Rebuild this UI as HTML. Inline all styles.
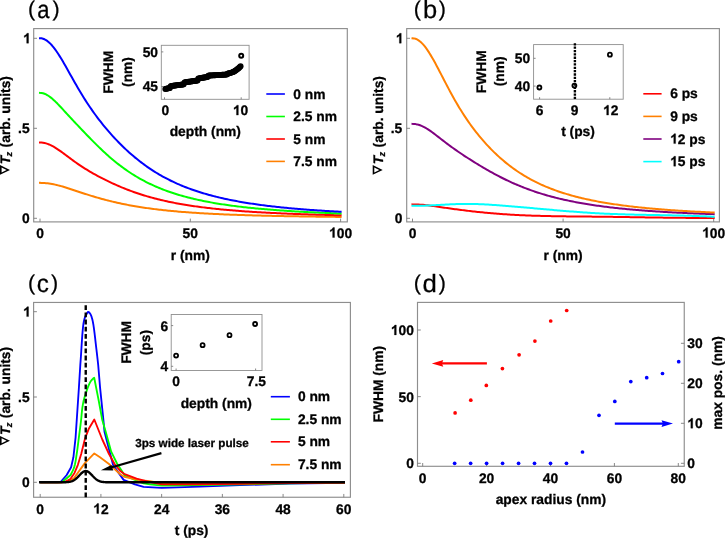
<!DOCTYPE html>
<html><head><meta charset="utf-8"><title>figure</title>
<style>
html,body{margin:0;padding:0;background:#fff;}
svg{display:block;will-change:transform;opacity:0.999;}
text{font-family:"Liberation Sans",sans-serif;font-weight:bold;fill:#000;text-rendering:geometricPrecision;stroke:#000;stroke-width:0.3px;}
</style></head><body>
<svg width="725" height="539" viewBox="0 0 725 539">
<rect x="33.7" y="28.6" width="313.6" height="193.3" fill="none" stroke="#8e8e8e" stroke-width="1.15"/>
<line x1="33.7" y1="218.3" x2="37" y2="218.3" stroke="#7a7a7a" stroke-width="0.9" />
<line x1="33.7" y1="128.3" x2="37" y2="128.3" stroke="#7a7a7a" stroke-width="0.9" />
<line x1="33.7" y1="38.3" x2="37" y2="38.3" stroke="#7a7a7a" stroke-width="0.9" />
<line x1="40" y1="221.9" x2="40" y2="218.6" stroke="#7a7a7a" stroke-width="0.9" />
<line x1="190.3" y1="221.9" x2="190.3" y2="218.6" stroke="#7a7a7a" stroke-width="0.9" />
<line x1="340.6" y1="221.9" x2="340.6" y2="218.6" stroke="#7a7a7a" stroke-width="0.9" />
<path transform="translate(23.13,43.2) scale(0.00674,-0.00674)" d="M806,0H525V1059Q371,915 162,846V1101Q272,1137 401,1237.5Q530,1338 578,1472H806Z" fill="#000" stroke="#000" stroke-width="45"/>
<text x="29.6" y="133.2" text-anchor="end" font-size="13.8" >.5</text>
<text x="29.8" y="223.2" text-anchor="end" font-size="13.8" >0</text>
<text x="40" y="237.5" text-anchor="middle" font-size="13.8" >0</text>
<text x="190.3" y="237.5" text-anchor="middle" font-size="13.8" >50</text>
<path transform="translate(329.09,237.5) scale(0.00674,-0.00674)" d="M806,0H525V1059Q371,915 162,846V1101Q272,1137 401,1237.5Q530,1338 578,1472H806Z" fill="#000" stroke="#000" stroke-width="45"/>
<text x="336.76" y="237.5" font-size="13.8" >00</text>
<text x="190.3" y="259.7" text-anchor="middle" font-size="13.8" >r (nm)</text>
<g transform="translate(10,126.7) rotate(-90)">
<path d="M-48.0,-10 L-38.4,-10 L-43.2,0 Z M-45.7,-8.4 L-43.2,-3.4 L-40.7,-8.4 Z" fill="#000" fill-rule="evenodd"/>
<text x="-37.6" y="0" font-size="13.8" font-style="italic">T</text>
<text x="-29.7" y="2.4" font-size="9.2" font-style="italic">z</text>
<text x="-20.7" y="0" font-size="13.8">(arb. units)</text>
</g>
<polyline points="40,182.86 41.51,182.88 43.02,182.94 44.53,183.03 46.04,183.16 47.55,183.32 49.06,183.52 50.57,183.75 52.08,184.02 53.59,184.31 55.11,184.63 56.62,184.98 58.13,185.35 59.64,185.74 61.15,186.15 62.66,186.58 64.17,187.03 65.68,187.49 67.19,187.96 68.7,188.45 70.21,188.94 71.72,189.43 73.23,189.93 74.74,190.44 76.25,190.94 77.76,191.45 79.27,191.95 80.78,192.45 82.3,192.95 83.81,193.45 85.32,193.94 86.83,194.42 88.34,194.91 89.85,195.38 91.36,195.85 92.87,196.31 94.38,196.76 95.89,197.21 97.4,197.65 98.91,198.08 100.42,198.51 101.93,198.92 103.44,199.33 104.95,199.73 106.46,200.13 107.97,200.51 109.49,200.89 111,201.26 112.51,201.63 114.02,201.98 115.53,202.33 117.04,202.68 118.55,203.01 120.06,203.34 121.57,203.66 123.08,203.97 124.59,204.28 126.1,204.58 127.61,204.87 129.12,205.16 130.63,205.44 132.14,205.71 133.65,205.98 135.16,206.24 136.68,206.5 138.19,206.75 139.7,206.99 141.21,207.23 142.72,207.46 144.23,207.69 145.74,207.91 147.25,208.13 148.76,208.34 150.27,208.54 151.78,208.74 153.29,208.94 154.8,209.13 156.31,209.32 157.82,209.5 159.33,209.68 160.84,209.85 162.35,210.02 163.87,210.18 165.38,210.35 166.89,210.5 168.4,210.66 169.91,210.81 171.42,210.95 172.93,211.1 174.44,211.23 175.95,211.37 177.46,211.5 178.97,211.63 180.48,211.76 181.99,211.88 183.5,212 185.01,212.12 186.52,212.23 188.03,212.35 189.54,212.46 191.06,212.56 192.57,212.67 194.08,212.77 195.59,212.87 197.1,212.97 198.61,213.06 200.12,213.15 201.63,213.24 203.14,213.33 204.65,213.42 206.16,213.51 207.67,213.59 209.18,213.67 210.69,213.75 212.2,213.83 213.71,213.9 215.22,213.97 216.73,214.05 218.25,214.12 219.76,214.19 221.27,214.25 222.78,214.32 224.29,214.39 225.8,214.45 227.31,214.51 228.82,214.57 230.33,214.63 231.84,214.69 233.35,214.75 234.86,214.8 236.37,214.86 237.88,214.91 239.39,214.96 240.9,215.01 242.41,215.06 243.92,215.11 245.44,215.16 246.95,215.21 248.46,215.26 249.97,215.3 251.48,215.35 252.99,215.39 254.5,215.43 256.01,215.47 257.52,215.51 259.03,215.56 260.54,215.59 262.05,215.63 263.56,215.67 265.07,215.71 266.58,215.75 268.09,215.78 269.6,215.82 271.11,215.85 272.63,215.88 274.14,215.92 275.65,215.95 277.16,215.98 278.67,216.01 280.18,216.04 281.69,216.07 283.2,216.1 284.71,216.13 286.22,216.16 287.73,216.19 289.24,216.22 290.75,216.25 292.26,216.27 293.77,216.3 295.28,216.32 296.79,216.35 298.3,216.37 299.82,216.4 301.33,216.42 302.84,216.45 304.35,216.47 305.86,216.49 307.37,216.51 308.88,216.54 310.39,216.56 311.9,216.58 313.41,216.6 314.92,216.62 316.43,216.64 317.94,216.66 319.45,216.68 320.96,216.7 322.47,216.72 323.98,216.74 325.49,216.76 327.01,216.77 328.52,216.79 330.03,216.81 331.54,216.83 333.05,216.84 334.56,216.86 336.07,216.88 337.58,216.89 339.09,216.91 340.6,216.92" fill="none" stroke="#ff8000" stroke-width="2" stroke-linejoin="round" stroke-linecap="square"/>
<polyline points="40,142.51 41.51,142.56 43.02,142.73 44.53,143.01 46.04,143.39 47.55,143.88 49.06,144.46 50.57,145.13 52.08,145.88 53.59,146.71 55.11,147.6 56.62,148.56 58.13,149.56 59.64,150.6 61.15,151.67 62.66,152.77 64.17,153.89 65.68,155.02 67.19,156.15 68.7,157.28 70.21,158.4 71.72,159.51 73.23,160.62 74.74,161.7 76.25,162.77 77.76,163.82 79.27,164.85 80.78,165.87 82.3,166.86 83.81,167.83 85.32,168.78 86.83,169.71 88.34,170.63 89.85,171.53 91.36,172.41 92.87,173.28 94.38,174.13 95.89,174.97 97.4,175.79 98.91,176.6 100.42,177.39 101.93,178.18 103.44,178.95 104.95,179.71 106.46,180.46 107.97,181.2 109.49,181.92 111,182.64 112.51,183.34 114.02,184.03 115.53,184.71 117.04,185.37 118.55,186.03 120.06,186.68 121.57,187.31 123.08,187.93 124.59,188.54 126.1,189.14 127.61,189.73 129.12,190.3 130.63,190.87 132.14,191.42 133.65,191.96 135.16,192.49 136.68,193.01 138.19,193.52 139.7,194.02 141.21,194.5 142.72,194.98 144.23,195.45 145.74,195.9 147.25,196.35 148.76,196.79 150.27,197.21 151.78,197.63 153.29,198.04 154.8,198.44 156.31,198.83 157.82,199.21 159.33,199.58 160.84,199.95 162.35,200.3 163.87,200.65 165.38,200.99 166.89,201.32 168.4,201.65 169.91,201.97 171.42,202.28 172.93,202.58 174.44,202.87 175.95,203.16 177.46,203.45 178.97,203.72 180.48,203.99 181.99,204.26 183.5,204.51 185.01,204.77 186.52,205.01 188.03,205.25 189.54,205.49 191.06,205.72 192.57,205.94 194.08,206.16 195.59,206.38 197.1,206.59 198.61,206.79 200.12,207 201.63,207.19 203.14,207.38 204.65,207.57 206.16,207.76 207.67,207.94 209.18,208.11 210.69,208.28 212.2,208.45 213.71,208.62 215.22,208.78 216.73,208.94 218.25,209.09 219.76,209.24 221.27,209.39 222.78,209.53 224.29,209.68 225.8,209.81 227.31,209.95 228.82,210.08 230.33,210.21 231.84,210.34 233.35,210.47 234.86,210.59 236.37,210.71 237.88,210.83 239.39,210.94 240.9,211.05 242.41,211.16 243.92,211.27 245.44,211.38 246.95,211.48 248.46,211.58 249.97,211.68 251.48,211.78 252.99,211.88 254.5,211.97 256.01,212.06 257.52,212.16 259.03,212.24 260.54,212.33 262.05,212.42 263.56,212.5 265.07,212.58 266.58,212.66 268.09,212.74 269.6,212.82 271.11,212.9 272.63,212.97 274.14,213.04 275.65,213.12 277.16,213.19 278.67,213.26 280.18,213.33 281.69,213.39 283.2,213.46 284.71,213.52 286.22,213.59 287.73,213.65 289.24,213.71 290.75,213.77 292.26,213.83 293.77,213.89 295.28,213.94 296.79,214 298.3,214.06 299.82,214.11 301.33,214.16 302.84,214.21 304.35,214.27 305.86,214.32 307.37,214.37 308.88,214.42 310.39,214.46 311.9,214.51 313.41,214.56 314.92,214.6 316.43,214.65 317.94,214.69 319.45,214.73 320.96,214.78 322.47,214.82 323.98,214.86 325.49,214.9 327.01,214.94 328.52,214.98 330.03,215.02 331.54,215.06 333.05,215.1 334.56,215.13 336.07,215.17 337.58,215.2 339.09,215.24 340.6,215.27" fill="none" stroke="#ff0000" stroke-width="2" stroke-linejoin="round" stroke-linecap="square"/>
<polyline points="40,92.9 41.51,93 43.02,93.29 44.53,93.77 46.04,94.43 47.55,95.26 49.06,96.23 50.57,97.35 52.08,98.58 53.59,99.92 55.11,101.34 56.62,102.82 58.13,104.36 59.64,105.94 61.15,107.55 62.66,109.18 64.17,110.81 65.68,112.45 67.19,114.09 68.7,115.73 70.21,117.36 71.72,118.98 73.23,120.6 74.74,122.22 76.25,123.83 77.76,125.43 79.27,127.03 80.78,128.63 82.3,130.22 83.81,131.8 85.32,133.38 86.83,134.95 88.34,136.51 89.85,138.07 91.36,139.61 92.87,141.14 94.38,142.66 95.89,144.16 97.4,145.65 98.91,147.12 100.42,148.58 101.93,150.01 103.44,151.43 104.95,152.83 106.46,154.2 107.97,155.55 109.49,156.88 111,158.19 112.51,159.47 114.02,160.73 115.53,161.96 117.04,163.17 118.55,164.36 120.06,165.52 121.57,166.66 123.08,167.77 124.59,168.87 126.1,169.93 127.61,170.97 129.12,171.99 130.63,172.99 132.14,173.97 133.65,174.92 135.16,175.85 136.68,176.75 138.19,177.64 139.7,178.51 141.21,179.35 142.72,180.18 144.23,180.98 145.74,181.77 147.25,182.53 148.76,183.28 150.27,184.01 151.78,184.72 153.29,185.41 154.8,186.09 156.31,186.75 157.82,187.4 159.33,188.02 160.84,188.64 162.35,189.24 163.87,189.82 165.38,190.39 166.89,190.94 168.4,191.49 169.91,192.01 171.42,192.53 172.93,193.03 174.44,193.52 175.95,194 177.46,194.47 178.97,194.93 180.48,195.37 181.99,195.81 183.5,196.23 185.01,196.64 186.52,197.05 188.03,197.44 189.54,197.83 191.06,198.2 192.57,198.57 194.08,198.93 195.59,199.28 197.1,199.62 198.61,199.96 200.12,200.28 201.63,200.6 203.14,200.91 204.65,201.22 206.16,201.51 207.67,201.8 209.18,202.09 210.69,202.37 212.2,202.64 213.71,202.9 215.22,203.16 216.73,203.42 218.25,203.67 219.76,203.91 221.27,204.15 222.78,204.38 224.29,204.61 225.8,204.83 227.31,205.05 228.82,205.26 230.33,205.47 231.84,205.67 233.35,205.87 234.86,206.07 236.37,206.26 237.88,206.44 239.39,206.63 240.9,206.81 242.41,206.98 243.92,207.16 245.44,207.33 246.95,207.49 248.46,207.65 249.97,207.81 251.48,207.97 252.99,208.12 254.5,208.27 256.01,208.42 257.52,208.56 259.03,208.7 260.54,208.84 262.05,208.97 263.56,209.11 265.07,209.24 266.58,209.37 268.09,209.49 269.6,209.61 271.11,209.74 272.63,209.85 274.14,209.97 275.65,210.08 277.16,210.2 278.67,210.31 280.18,210.41 281.69,210.52 283.2,210.62 284.71,210.73 286.22,210.83 287.73,210.92 289.24,211.02 290.75,211.12 292.26,211.21 293.77,211.3 295.28,211.39 296.79,211.48 298.3,211.57 299.82,211.65 301.33,211.73 302.84,211.82 304.35,211.9 305.86,211.98 307.37,212.06 308.88,212.13 310.39,212.21 311.9,212.28 313.41,212.36 314.92,212.43 316.43,212.5 317.94,212.57 319.45,212.64 320.96,212.7 322.47,212.77 323.98,212.84 325.49,212.9 327.01,212.96 328.52,213.02 330.03,213.09 331.54,213.15 333.05,213.2 334.56,213.26 336.07,213.32 337.58,213.38 339.09,213.43 340.6,213.49" fill="none" stroke="#00ff00" stroke-width="2" stroke-linejoin="round" stroke-linecap="square"/>
<polyline points="40,38.22 41.51,38.34 43.02,38.7 44.53,39.29 46.04,40.12 47.55,41.17 49.06,42.43 50.57,43.89 52.08,45.54 53.59,47.37 55.11,49.35 56.62,51.48 58.13,53.73 59.64,56.09 61.15,58.55 62.66,61.09 64.17,63.68 65.68,66.33 67.19,69 68.7,71.7 70.21,74.4 71.72,77.1 73.23,79.79 74.74,82.46 76.25,85.1 77.76,87.7 79.27,90.27 80.78,92.8 82.3,95.28 83.81,97.72 85.32,100.11 86.83,102.45 88.34,104.75 89.85,106.99 91.36,109.19 92.87,111.35 94.38,113.46 95.89,115.52 97.4,117.55 98.91,119.53 100.42,121.48 101.93,123.39 103.44,125.27 104.95,127.1 106.46,128.91 107.97,130.68 109.49,132.42 111,134.13 112.51,135.81 114.02,137.46 115.53,139.08 117.04,140.67 118.55,142.24 120.06,143.77 121.57,145.28 123.08,146.75 124.59,148.21 126.1,149.63 127.61,151.03 129.12,152.39 130.63,153.74 132.14,155.05 133.65,156.34 135.16,157.61 136.68,158.84 138.19,160.06 139.7,161.24 141.21,162.41 142.72,163.55 144.23,164.66 145.74,165.75 147.25,166.82 148.76,167.86 150.27,168.88 151.78,169.88 153.29,170.85 154.8,171.81 156.31,172.74 157.82,173.65 159.33,174.54 160.84,175.41 162.35,176.27 163.87,177.1 165.38,177.91 166.89,178.71 168.4,179.48 169.91,180.24 171.42,180.99 172.93,181.71 174.44,182.42 175.95,183.11 177.46,183.79 178.97,184.45 180.48,185.09 181.99,185.73 183.5,186.34 185.01,186.95 186.52,187.53 188.03,188.11 189.54,188.67 191.06,189.22 192.57,189.76 194.08,190.28 195.59,190.8 197.1,191.3 198.61,191.79 200.12,192.27 201.63,192.74 203.14,193.2 204.65,193.65 206.16,194.08 207.67,194.51 209.18,194.93 210.69,195.34 212.2,195.74 213.71,196.13 215.22,196.52 216.73,196.89 218.25,197.26 219.76,197.62 221.27,197.97 222.78,198.31 224.29,198.65 225.8,198.98 227.31,199.3 228.82,199.62 230.33,199.93 231.84,200.23 233.35,200.52 234.86,200.81 236.37,201.1 237.88,201.37 239.39,201.65 240.9,201.91 242.41,202.17 243.92,202.43 245.44,202.68 246.95,202.92 248.46,203.16 249.97,203.4 251.48,203.63 252.99,203.86 254.5,204.08 256.01,204.3 257.52,204.51 259.03,204.72 260.54,204.92 262.05,205.12 263.56,205.32 265.07,205.51 266.58,205.7 268.09,205.89 269.6,206.07 271.11,206.25 272.63,206.42 274.14,206.59 275.65,206.76 277.16,206.93 278.67,207.09 280.18,207.25 281.69,207.4 283.2,207.56 284.71,207.71 286.22,207.85 287.73,208 289.24,208.14 290.75,208.28 292.26,208.42 293.77,208.55 295.28,208.69 296.79,208.82 298.3,208.94 299.82,209.07 301.33,209.19 302.84,209.31 304.35,209.43 305.86,209.55 307.37,209.66 308.88,209.77 310.39,209.89 311.9,209.99 313.41,210.1 314.92,210.21 316.43,210.31 317.94,210.41 319.45,210.51 320.96,210.61 322.47,210.71 323.98,210.8 325.49,210.89 327.01,210.99 328.52,211.08 330.03,211.17 331.54,211.25 333.05,211.34 334.56,211.42 336.07,211.51 337.58,211.59 339.09,211.67 340.6,211.75" fill="none" stroke="#0000ff" stroke-width="2" stroke-linejoin="round" stroke-linecap="square"/>
<rect x="161.3" y="45.3" width="87.8" height="54" fill="none" stroke="#8e8e8e" stroke-width="0.9"/>
<line x1="164.5" y1="99.3" x2="164.5" y2="97.3" stroke="#7a7a7a" stroke-width="0.9" />
<line x1="241.2" y1="99.3" x2="241.2" y2="97.3" stroke="#7a7a7a" stroke-width="0.9" />
<line x1="161.3" y1="86.5" x2="163.3" y2="86.5" stroke="#7a7a7a" stroke-width="0.9" />
<line x1="161.3" y1="51.9" x2="163.3" y2="51.9" stroke="#7a7a7a" stroke-width="0.9" />
<circle cx="165.3" cy="88.96" r="2.95" fill="#000"/>
<circle cx="166.07" cy="88.79" r="2.95" fill="#000"/>
<circle cx="166.84" cy="88.62" r="2.95" fill="#000"/>
<circle cx="167.61" cy="88.46" r="2.95" fill="#000"/>
<circle cx="168.37" cy="88.3" r="2.95" fill="#000"/>
<circle cx="169.14" cy="88.14" r="2.95" fill="#000"/>
<circle cx="169.91" cy="87.99" r="2.95" fill="#000"/>
<circle cx="170.68" cy="86.16" r="2.95" fill="#000"/>
<circle cx="171.45" cy="86.03" r="2.95" fill="#000"/>
<circle cx="172.22" cy="85.9" r="2.95" fill="#000"/>
<circle cx="172.98" cy="85.78" r="2.95" fill="#000"/>
<circle cx="173.75" cy="85.66" r="2.95" fill="#000"/>
<circle cx="174.52" cy="85.55" r="2.95" fill="#000"/>
<circle cx="175.29" cy="85.44" r="2.95" fill="#000"/>
<circle cx="176.06" cy="85.34" r="2.95" fill="#000"/>
<circle cx="176.83" cy="85.23" r="2.95" fill="#000"/>
<circle cx="177.59" cy="85.13" r="2.95" fill="#000"/>
<circle cx="178.36" cy="85.03" r="2.95" fill="#000"/>
<circle cx="179.13" cy="84.93" r="2.95" fill="#000"/>
<circle cx="179.9" cy="84.83" r="2.95" fill="#000"/>
<circle cx="180.67" cy="84.73" r="2.95" fill="#000"/>
<circle cx="181.44" cy="84.63" r="2.95" fill="#000"/>
<circle cx="182.2" cy="84.53" r="2.95" fill="#000"/>
<circle cx="182.97" cy="84.43" r="2.95" fill="#000"/>
<circle cx="183.74" cy="84.32" r="2.95" fill="#000"/>
<circle cx="184.51" cy="82.36" r="2.95" fill="#000"/>
<circle cx="185.28" cy="82.25" r="2.95" fill="#000"/>
<circle cx="186.05" cy="82.15" r="2.95" fill="#000"/>
<circle cx="186.81" cy="82.04" r="2.95" fill="#000"/>
<circle cx="187.58" cy="81.93" r="2.95" fill="#000"/>
<circle cx="188.35" cy="81.82" r="2.95" fill="#000"/>
<circle cx="189.12" cy="81.71" r="2.95" fill="#000"/>
<circle cx="189.89" cy="81.6" r="2.95" fill="#000"/>
<circle cx="190.66" cy="81.49" r="2.95" fill="#000"/>
<circle cx="191.42" cy="81.38" r="2.95" fill="#000"/>
<circle cx="192.19" cy="81.27" r="2.95" fill="#000"/>
<circle cx="192.96" cy="81.16" r="2.95" fill="#000"/>
<circle cx="193.73" cy="81.05" r="2.95" fill="#000"/>
<circle cx="194.5" cy="80.94" r="2.95" fill="#000"/>
<circle cx="195.27" cy="80.82" r="2.95" fill="#000"/>
<circle cx="196.03" cy="80.71" r="2.95" fill="#000"/>
<circle cx="196.8" cy="80.6" r="2.95" fill="#000"/>
<circle cx="197.57" cy="80.48" r="2.95" fill="#000"/>
<circle cx="198.34" cy="78.49" r="2.95" fill="#000"/>
<circle cx="199.11" cy="78.36" r="2.95" fill="#000"/>
<circle cx="199.88" cy="78.23" r="2.95" fill="#000"/>
<circle cx="200.64" cy="78.1" r="2.95" fill="#000"/>
<circle cx="201.41" cy="77.96" r="2.95" fill="#000"/>
<circle cx="202.18" cy="77.82" r="2.95" fill="#000"/>
<circle cx="202.95" cy="77.69" r="2.95" fill="#000"/>
<circle cx="203.72" cy="77.55" r="2.95" fill="#000"/>
<circle cx="204.49" cy="77.43" r="2.95" fill="#000"/>
<circle cx="205.26" cy="77.31" r="2.95" fill="#000"/>
<circle cx="206.02" cy="77.2" r="2.95" fill="#000"/>
<circle cx="206.79" cy="77.1" r="2.95" fill="#000"/>
<circle cx="207.56" cy="77.01" r="2.95" fill="#000"/>
<circle cx="208.33" cy="75.63" r="2.95" fill="#000"/>
<circle cx="209.1" cy="75.57" r="2.95" fill="#000"/>
<circle cx="209.87" cy="75.51" r="2.95" fill="#000"/>
<circle cx="210.63" cy="75.46" r="2.95" fill="#000"/>
<circle cx="211.4" cy="75.42" r="2.95" fill="#000"/>
<circle cx="212.17" cy="75.37" r="2.95" fill="#000"/>
<circle cx="212.94" cy="75.33" r="2.95" fill="#000"/>
<circle cx="213.71" cy="75.29" r="2.95" fill="#000"/>
<circle cx="214.48" cy="75.25" r="2.95" fill="#000"/>
<circle cx="215.24" cy="75.22" r="2.95" fill="#000"/>
<circle cx="216.01" cy="75.17" r="2.95" fill="#000"/>
<circle cx="216.78" cy="75.13" r="2.95" fill="#000"/>
<circle cx="217.55" cy="75.08" r="2.95" fill="#000"/>
<circle cx="218.32" cy="75.04" r="2.95" fill="#000"/>
<circle cx="219.09" cy="74.99" r="2.95" fill="#000"/>
<circle cx="219.85" cy="74.94" r="2.95" fill="#000"/>
<circle cx="220.62" cy="74.9" r="2.95" fill="#000"/>
<circle cx="221.39" cy="74.85" r="2.95" fill="#000"/>
<circle cx="222.16" cy="74.8" r="2.95" fill="#000"/>
<circle cx="222.93" cy="74.75" r="2.95" fill="#000"/>
<circle cx="223.7" cy="74.7" r="2.95" fill="#000"/>
<circle cx="224.46" cy="74.64" r="2.95" fill="#000"/>
<circle cx="225.23" cy="74.58" r="2.95" fill="#000"/>
<circle cx="226" cy="74.51" r="2.95" fill="#000"/>
<circle cx="226.77" cy="74.44" r="2.95" fill="#000"/>
<circle cx="227.54" cy="73.67" r="2.95" fill="#000"/>
<circle cx="228.31" cy="73.5" r="2.95" fill="#000"/>
<circle cx="229.07" cy="73.31" r="2.95" fill="#000"/>
<circle cx="229.84" cy="73.1" r="2.95" fill="#000"/>
<circle cx="230.61" cy="72.87" r="2.95" fill="#000"/>
<circle cx="231.38" cy="72.62" r="2.95" fill="#000"/>
<circle cx="232.15" cy="72.35" r="2.95" fill="#000"/>
<circle cx="232.92" cy="72.05" r="2.95" fill="#000"/>
<circle cx="233.68" cy="71.72" r="2.95" fill="#000"/>
<circle cx="234.45" cy="71.29" r="2.95" fill="#000"/>
<circle cx="235.22" cy="70.78" r="2.95" fill="#000"/>
<circle cx="235.99" cy="70.21" r="2.95" fill="#000"/>
<circle cx="236.76" cy="69.6" r="2.95" fill="#000"/>
<circle cx="237.53" cy="69" r="2.95" fill="#000"/>
<circle cx="238.29" cy="68.38" r="2.95" fill="#000"/>
<circle cx="239.06" cy="67.72" r="2.95" fill="#000"/>
<circle cx="239.83" cy="67.02" r="2.95" fill="#000"/>
<circle cx="240.6" cy="66.3" r="2.95" fill="#000"/>
<circle cx="241.2" cy="55.7" r="2" fill="#fff" stroke="#000" stroke-width="2"/>
<text x="158" y="57.2" text-anchor="end" font-size="13.8" >50</text>
<text x="158" y="91.4" text-anchor="end" font-size="13.8" >45</text>
<text x="165.3" y="115.1" text-anchor="middle" font-size="13.8" >0</text>
<path transform="translate(232.93,115.1) scale(0.00674,-0.00674)" d="M806,0H525V1059Q371,915 162,846V1101Q272,1137 401,1237.5Q530,1338 578,1472H806Z" fill="#000" stroke="#000" stroke-width="45"/>
<text x="240.6" y="115.1" font-size="13.8" >0</text>
<text x="205.3" y="136.3" text-anchor="middle" font-size="13.8" >depth (nm)</text>
<text transform="translate(112.8,72.2) rotate(-90)" text-anchor="middle" font-size="13.8" >FWHM</text>
<text transform="translate(132.4,72) rotate(-90)" text-anchor="middle" font-size="13.8" >(nm)</text>
<line x1="266.3" y1="94" x2="284.9" y2="94" stroke="#0000ff" stroke-width="1.6" />
<text x="293.3" y="98.6" text-anchor="start" font-size="13.8" >0 nm</text>
<line x1="266.3" y1="116.5" x2="284.9" y2="116.5" stroke="#00ff00" stroke-width="1.6" />
<text x="293.3" y="121.1" text-anchor="start" font-size="13.8" >2.5 nm</text>
<line x1="266.3" y1="139" x2="284.9" y2="139" stroke="#ff0000" stroke-width="1.6" />
<text x="293.3" y="143.6" text-anchor="start" font-size="13.8" >5 nm</text>
<line x1="266.3" y1="161.4" x2="284.9" y2="161.4" stroke="#ff8000" stroke-width="1.6" />
<text x="293.3" y="166" text-anchor="start" font-size="13.8" >7.5 nm</text>
<rect x="406.7" y="28.6" width="312.7" height="193.3" fill="none" stroke="#8e8e8e" stroke-width="1.15"/>
<line x1="406.7" y1="218.3" x2="410" y2="218.3" stroke="#7a7a7a" stroke-width="0.9" />
<line x1="406.7" y1="128.3" x2="410" y2="128.3" stroke="#7a7a7a" stroke-width="0.9" />
<line x1="406.7" y1="38.3" x2="410" y2="38.3" stroke="#7a7a7a" stroke-width="0.9" />
<line x1="412.5" y1="221.9" x2="412.5" y2="218.6" stroke="#7a7a7a" stroke-width="0.9" />
<line x1="563.1" y1="221.9" x2="563.1" y2="218.6" stroke="#7a7a7a" stroke-width="0.9" />
<line x1="713.7" y1="221.9" x2="713.7" y2="218.6" stroke="#7a7a7a" stroke-width="0.9" />
<path transform="translate(395.83,43.2) scale(0.00674,-0.00674)" d="M806,0H525V1059Q371,915 162,846V1101Q272,1137 401,1237.5Q530,1338 578,1472H806Z" fill="#000" stroke="#000" stroke-width="45"/>
<text x="402.3" y="133.2" text-anchor="end" font-size="13.8" >.5</text>
<text x="402.5" y="223.2" text-anchor="end" font-size="13.8" >0</text>
<text x="412.5" y="237.5" text-anchor="middle" font-size="13.8" >0</text>
<text x="563.1" y="237.5" text-anchor="middle" font-size="13.8" >50</text>
<path transform="translate(702.19,237.5) scale(0.00674,-0.00674)" d="M806,0H525V1059Q371,915 162,846V1101Q272,1137 401,1237.5Q530,1338 578,1472H806Z" fill="#000" stroke="#000" stroke-width="45"/>
<text x="709.86" y="237.5" font-size="13.8" >00</text>
<text x="563.1" y="259.7" text-anchor="middle" font-size="13.8" >r (nm)</text>
<g transform="translate(382.7,126.7) rotate(-90)">
<path d="M-48.0,-10 L-38.4,-10 L-43.2,0 Z M-45.7,-8.4 L-43.2,-3.4 L-40.7,-8.4 Z" fill="#000" fill-rule="evenodd"/>
<text x="-37.6" y="0" font-size="13.8" font-style="italic">T</text>
<text x="-29.7" y="2.4" font-size="9.2" font-style="italic">z</text>
<text x="-20.7" y="0" font-size="13.8">(arb. units)</text>
</g>
<polyline points="412.5,204.38 414.01,204.39 415.53,204.43 417.04,204.48 418.55,204.55 420.07,204.64 421.58,204.75 423.09,204.87 424.61,205.01 426.12,205.16 427.64,205.33 429.15,205.51 430.66,205.7 432.18,205.9 433.69,206.1 435.2,206.31 436.72,206.53 438.23,206.75 439.74,206.98 441.26,207.2 442.77,207.42 444.28,207.65 445.8,207.87 447.31,208.09 448.83,208.3 450.34,208.51 451.85,208.72 453.37,208.93 454.88,209.14 456.39,209.34 457.91,209.54 459.42,209.74 460.93,209.94 462.45,210.13 463.96,210.32 465.47,210.5 466.99,210.69 468.5,210.87 470.02,211.05 471.53,211.22 473.04,211.39 474.56,211.56 476.07,211.73 477.58,211.89 479.1,212.05 480.61,212.21 482.12,212.36 483.64,212.51 485.15,212.66 486.66,212.81 488.18,212.95 489.69,213.08 491.21,213.22 492.72,213.35 494.23,213.48 495.75,213.6 497.26,213.72 498.77,213.84 500.29,213.95 501.8,214.06 503.31,214.17 504.83,214.27 506.34,214.37 507.85,214.47 509.37,214.56 510.88,214.65 512.4,214.74 513.91,214.82 515.42,214.9 516.94,214.98 518.45,215.06 519.96,215.13 521.48,215.2 522.99,215.27 524.5,215.33 526.02,215.4 527.53,215.46 529.04,215.52 530.56,215.57 532.07,215.63 533.59,215.68 535.1,215.73 536.61,215.77 538.13,215.82 539.64,215.86 541.15,215.9 542.67,215.94 544.18,215.98 545.69,216.02 547.21,216.05 548.72,216.08 550.23,216.11 551.75,216.14 553.26,216.17 554.78,216.2 556.29,216.23 557.8,216.25 559.32,216.28 560.83,216.3 562.34,216.32 563.86,216.34 565.37,216.36 566.88,216.38 568.4,216.4 569.91,216.42 571.42,216.43 572.94,216.45 574.45,216.46 575.97,216.48 577.48,216.5 578.99,216.51 580.51,216.52 582.02,216.54 583.53,216.55 585.05,216.57 586.56,216.58 588.07,216.6 589.59,216.61 591.1,216.62 592.61,216.64 594.13,216.65 595.64,216.67 597.16,216.69 598.67,216.7 600.18,216.72 601.7,216.74 603.21,216.75 604.72,216.77 606.24,216.79 607.75,216.81 609.26,216.83 610.78,216.85 612.29,216.87 613.8,216.89 615.32,216.92 616.83,216.94 618.35,216.96 619.86,216.98 621.37,217 622.89,217.03 624.4,217.05 625.91,217.07 627.43,217.1 628.94,217.12 630.45,217.14 631.97,217.17 633.48,217.19 634.99,217.22 636.51,217.24 638.02,217.26 639.54,217.29 641.05,217.31 642.56,217.33 644.08,217.36 645.59,217.38 647.1,217.41 648.62,217.43 650.13,217.45 651.64,217.47 653.16,217.5 654.67,217.52 656.18,217.54 657.7,217.56 659.21,217.58 660.73,217.6 662.24,217.62 663.75,217.64 665.27,217.66 666.78,217.68 668.29,217.7 669.81,217.72 671.32,217.74 672.83,217.75 674.35,217.77 675.86,217.79 677.37,217.8 678.89,217.82 680.4,217.83 681.92,217.84 683.43,217.85 684.94,217.87 686.46,217.88 687.97,217.89 689.48,217.9 691,217.9 692.51,217.91 694.02,217.92 695.54,217.92 697.05,217.93 698.56,217.93 700.08,217.93 701.59,217.93 703.11,217.93 704.62,217.93 706.13,217.93 707.65,217.93 709.16,217.92 710.67,217.92 712.19,217.91 713.7,217.91" fill="none" stroke="#ff0000" stroke-width="2" stroke-linejoin="round" stroke-linecap="square"/>
<polyline points="412.5,205.82 414.01,205.83 415.53,205.82 417.04,205.81 418.55,205.8 420.07,205.77 421.58,205.74 423.09,205.7 424.61,205.65 426.12,205.6 427.64,205.54 429.15,205.48 430.66,205.41 432.18,205.34 433.69,205.26 435.2,205.18 436.72,205.1 438.23,205.01 439.74,204.93 441.26,204.85 442.77,204.76 444.28,204.68 445.8,204.59 447.31,204.51 448.83,204.43 450.34,204.36 451.85,204.29 453.37,204.22 454.88,204.16 456.39,204.1 457.91,204.05 459.42,204.01 460.93,203.97 462.45,203.94 463.96,203.92 465.47,203.91 466.99,203.91 468.5,203.91 470.02,203.92 471.53,203.94 473.04,203.97 474.56,204.01 476.07,204.05 477.58,204.1 479.1,204.15 480.61,204.21 482.12,204.28 483.64,204.35 485.15,204.43 486.66,204.51 488.18,204.6 489.69,204.69 491.21,204.78 492.72,204.88 494.23,204.98 495.75,205.09 497.26,205.2 498.77,205.31 500.29,205.42 501.8,205.54 503.31,205.66 504.83,205.78 506.34,205.9 507.85,206.02 509.37,206.15 510.88,206.27 512.4,206.4 513.91,206.53 515.42,206.66 516.94,206.78 518.45,206.91 519.96,207.05 521.48,207.18 522.99,207.31 524.5,207.44 526.02,207.58 527.53,207.71 529.04,207.84 530.56,207.98 532.07,208.11 533.59,208.25 535.1,208.38 536.61,208.52 538.13,208.66 539.64,208.79 541.15,208.93 542.67,209.06 544.18,209.2 545.69,209.33 547.21,209.46 548.72,209.6 550.23,209.73 551.75,209.86 553.26,210 554.78,210.13 556.29,210.26 557.8,210.39 559.32,210.52 560.83,210.64 562.34,210.77 563.86,210.9 565.37,211.02 566.88,211.14 568.4,211.26 569.91,211.39 571.42,211.5 572.94,211.62 574.45,211.74 575.97,211.85 577.48,211.97 578.99,212.08 580.51,212.19 582.02,212.29 583.53,212.4 585.05,212.5 586.56,212.6 588.07,212.7 589.59,212.8 591.1,212.89 592.61,212.98 594.13,213.07 595.64,213.16 597.16,213.25 598.67,213.33 600.18,213.41 601.7,213.49 603.21,213.56 604.72,213.63 606.24,213.7 607.75,213.77 609.26,213.83 610.78,213.89 612.29,213.95 613.8,214.01 615.32,214.07 616.83,214.12 618.35,214.17 619.86,214.22 621.37,214.27 622.89,214.32 624.4,214.36 625.91,214.41 627.43,214.45 628.94,214.49 630.45,214.53 631.97,214.57 633.48,214.61 634.99,214.64 636.51,214.68 638.02,214.71 639.54,214.74 641.05,214.78 642.56,214.81 644.08,214.84 645.59,214.87 647.1,214.9 648.62,214.93 650.13,214.95 651.64,214.98 653.16,215.01 654.67,215.04 656.18,215.07 657.7,215.09 659.21,215.12 660.73,215.15 662.24,215.18 663.75,215.21 665.27,215.23 666.78,215.26 668.29,215.29 669.81,215.32 671.32,215.35 672.83,215.38 674.35,215.41 675.86,215.45 677.37,215.48 678.89,215.51 680.4,215.55 681.92,215.59 683.43,215.62 684.94,215.66 686.46,215.7 687.97,215.74 689.48,215.79 691,215.83 692.51,215.88 694.02,215.93 695.54,215.97 697.05,216.03 698.56,216.08 700.08,216.13 701.59,216.19 703.11,216.25 704.62,216.31 706.13,216.37 707.65,216.44 709.16,216.51 710.67,216.58 712.19,216.65 713.7,216.73" fill="none" stroke="#00ffff" stroke-width="2" stroke-linejoin="round" stroke-linecap="square"/>
<polyline points="412.5,123.88 414.01,123.94 415.53,124.11 417.04,124.4 418.55,124.8 420.07,125.3 421.58,125.91 423.09,126.6 424.61,127.39 426.12,128.24 427.64,129.17 429.15,130.16 430.66,131.19 432.18,132.27 433.69,133.39 435.2,134.52 436.72,135.68 438.23,136.85 439.74,138.03 441.26,139.2 442.77,140.37 444.28,141.54 445.8,142.7 447.31,143.84 448.83,144.97 450.34,146.09 451.85,147.2 453.37,148.29 454.88,149.36 456.39,150.42 457.91,151.47 459.42,152.51 460.93,153.53 462.45,154.54 463.96,155.55 465.47,156.54 466.99,157.52 468.5,158.5 470.02,159.46 471.53,160.42 473.04,161.37 474.56,162.32 476.07,163.25 477.58,164.18 479.1,165.1 480.61,166.01 482.12,166.91 483.64,167.81 485.15,168.69 486.66,169.57 488.18,170.44 489.69,171.29 491.21,172.14 492.72,172.97 494.23,173.8 495.75,174.61 497.26,175.42 498.77,176.21 500.29,176.99 501.8,177.76 503.31,178.51 504.83,179.26 506.34,179.99 507.85,180.71 509.37,181.42 510.88,182.12 512.4,182.81 513.91,183.48 515.42,184.14 516.94,184.79 518.45,185.43 519.96,186.05 521.48,186.67 522.99,187.27 524.5,187.86 526.02,188.44 527.53,189.01 529.04,189.56 530.56,190.11 532.07,190.64 533.59,191.17 535.1,191.68 536.61,192.18 538.13,192.68 539.64,193.16 541.15,193.63 542.67,194.1 544.18,194.55 545.69,194.99 547.21,195.43 548.72,195.86 550.23,196.27 551.75,196.68 553.26,197.08 554.78,197.47 556.29,197.86 557.8,198.23 559.32,198.6 560.83,198.96 562.34,199.31 563.86,199.65 565.37,199.99 566.88,200.32 568.4,200.64 569.91,200.96 571.42,201.27 572.94,201.57 574.45,201.87 575.97,202.16 577.48,202.44 578.99,202.72 580.51,202.99 582.02,203.26 583.53,203.52 585.05,203.78 586.56,204.03 588.07,204.27 589.59,204.51 591.1,204.75 592.61,204.98 594.13,205.2 595.64,205.42 597.16,205.64 598.67,205.85 600.18,206.06 601.7,206.26 603.21,206.46 604.72,206.65 606.24,206.84 607.75,207.03 609.26,207.21 610.78,207.39 612.29,207.57 613.8,207.74 615.32,207.91 616.83,208.08 618.35,208.24 619.86,208.4 621.37,208.55 622.89,208.71 624.4,208.86 625.91,209 627.43,209.15 628.94,209.29 630.45,209.43 631.97,209.56 633.48,209.69 634.99,209.83 636.51,209.95 638.02,210.08 639.54,210.2 641.05,210.32 642.56,210.44 644.08,210.56 645.59,210.67 647.1,210.78 648.62,210.89 650.13,211 651.64,211.11 653.16,211.21 654.67,211.31 656.18,211.41 657.7,211.51 659.21,211.61 660.73,211.7 662.24,211.8 663.75,211.89 665.27,211.98 666.78,212.06 668.29,212.15 669.81,212.24 671.32,212.32 672.83,212.4 674.35,212.48 675.86,212.56 677.37,212.64 678.89,212.71 680.4,212.79 681.92,212.86 683.43,212.94 684.94,213.01 686.46,213.08 687.97,213.15 689.48,213.21 691,213.28 692.51,213.34 694.02,213.41 695.54,213.47 697.05,213.53 698.56,213.59 700.08,213.65 701.59,213.71 703.11,213.77 704.62,213.83 706.13,213.89 707.65,213.94 709.16,213.99 710.67,214.05 712.19,214.1 713.7,214.15" fill="none" stroke="#800080" stroke-width="2" stroke-linejoin="round" stroke-linecap="square"/>
<polyline points="412.5,38.27 414.01,38.4 415.53,38.79 417.04,39.43 418.55,40.33 420.07,41.47 421.58,42.84 423.09,44.42 424.61,46.21 426.12,48.2 427.64,50.35 429.15,52.66 430.66,55.11 432.18,57.67 433.69,60.34 435.2,63.09 436.72,65.91 438.23,68.78 439.74,71.69 441.26,74.61 442.77,77.55 444.28,80.48 445.8,83.39 447.31,86.29 448.83,89.15 450.34,91.97 451.85,94.75 453.37,97.49 454.88,100.17 456.39,102.8 457.91,105.37 459.42,107.89 460.93,110.35 462.45,112.76 463.96,115.11 465.47,117.4 466.99,119.64 468.5,121.83 470.02,123.97 471.53,126.06 473.04,128.11 474.56,130.1 476.07,132.05 477.58,133.96 479.1,135.83 480.61,137.65 482.12,139.43 483.64,141.18 485.15,142.88 486.66,144.55 488.18,146.18 489.69,147.78 491.21,149.34 492.72,150.86 494.23,152.35 495.75,153.81 497.26,155.23 498.77,156.63 500.29,157.99 501.8,159.31 503.31,160.61 504.83,161.88 506.34,163.11 507.85,164.32 509.37,165.5 510.88,166.65 512.4,167.77 513.91,168.87 515.42,169.94 516.94,170.98 518.45,172 519.96,172.99 521.48,173.96 522.99,174.9 524.5,175.82 526.02,176.72 527.53,177.6 529.04,178.45 530.56,179.28 532.07,180.1 533.59,180.89 535.1,181.66 536.61,182.41 538.13,183.15 539.64,183.86 541.15,184.56 542.67,185.24 544.18,185.91 545.69,186.55 547.21,187.19 548.72,187.8 550.23,188.4 551.75,188.99 553.26,189.56 554.78,190.12 556.29,190.66 557.8,191.19 559.32,191.71 560.83,192.22 562.34,192.71 563.86,193.19 565.37,193.66 566.88,194.12 568.4,194.57 569.91,195.01 571.42,195.44 572.94,195.85 574.45,196.26 575.97,196.66 577.48,197.05 578.99,197.43 580.51,197.8 582.02,198.16 583.53,198.51 585.05,198.86 586.56,199.2 588.07,199.53 589.59,199.85 591.1,200.17 592.61,200.48 594.13,200.78 595.64,201.07 597.16,201.36 598.67,201.65 600.18,201.92 601.7,202.19 603.21,202.46 604.72,202.71 606.24,202.97 607.75,203.22 609.26,203.46 610.78,203.7 612.29,203.93 613.8,204.15 615.32,204.38 616.83,204.6 618.35,204.81 619.86,205.02 621.37,205.22 622.89,205.42 624.4,205.62 625.91,205.81 627.43,206 628.94,206.19 630.45,206.37 631.97,206.54 633.48,206.72 634.99,206.89 636.51,207.06 638.02,207.22 639.54,207.38 641.05,207.54 642.56,207.69 644.08,207.84 645.59,207.99 647.1,208.14 648.62,208.28 650.13,208.42 651.64,208.56 653.16,208.69 654.67,208.83 656.18,208.96 657.7,209.08 659.21,209.21 660.73,209.33 662.24,209.45 663.75,209.57 665.27,209.69 666.78,209.8 668.29,209.92 669.81,210.03 671.32,210.13 672.83,210.24 674.35,210.35 675.86,210.45 677.37,210.55 678.89,210.65 680.4,210.75 681.92,210.84 683.43,210.94 684.94,211.03 686.46,211.12 687.97,211.21 689.48,211.3 691,211.38 692.51,211.47 694.02,211.55 695.54,211.63 697.05,211.71 698.56,211.79 700.08,211.87 701.59,211.95 703.11,212.02 704.62,212.1 706.13,212.17 707.65,212.24 709.16,212.31 710.67,212.38 712.19,212.45 713.7,212.52" fill="none" stroke="#ff8000" stroke-width="2" stroke-linejoin="round" stroke-linecap="square"/>
<rect x="533.6" y="44.6" width="89.6" height="54.6" fill="none" stroke="#8e8e8e" stroke-width="0.9"/>
<line x1="539.6" y1="99.2" x2="539.6" y2="97.2" stroke="#7a7a7a" stroke-width="0.9" />
<line x1="574.7" y1="99.2" x2="574.7" y2="97.2" stroke="#7a7a7a" stroke-width="0.9" />
<line x1="609.8" y1="99.2" x2="609.8" y2="97.2" stroke="#7a7a7a" stroke-width="0.9" />
<line x1="533.6" y1="86.1" x2="535.6" y2="86.1" stroke="#7a7a7a" stroke-width="0.9" />
<line x1="533.6" y1="58.3" x2="535.6" y2="58.3" stroke="#7a7a7a" stroke-width="0.9" />
<circle cx="539.4" cy="87.49" r="2" fill="#fff" stroke="#000" stroke-width="1.8"/>
<circle cx="574.4" cy="85.54" r="2" fill="#fff" stroke="#000" stroke-width="1.8"/>
<circle cx="609.9" cy="54.69" r="2" fill="#fff" stroke="#000" stroke-width="1.8"/>
<line x1="574.9" y1="43.2" x2="574.9" y2="99.5" stroke="#000" stroke-width="2.4" stroke-dasharray="2.3 1.05"/>
<text x="530.2" y="63.2" text-anchor="end" font-size="13.8" >50</text>
<text x="530.2" y="91" text-anchor="end" font-size="13.8" >40</text>
<text x="539.6" y="115.1" text-anchor="middle" font-size="13.8" >6</text>
<text x="574.7" y="115.1" text-anchor="middle" font-size="13.8" >9</text>
<path transform="translate(603.13,115.1) scale(0.00674,-0.00674)" d="M806,0H525V1059Q371,915 162,846V1101Q272,1137 401,1237.5Q530,1338 578,1472H806Z" fill="#000" stroke="#000" stroke-width="45"/>
<text x="610.8" y="115.1" font-size="13.8" >2</text>
<text x="578" y="136.3" text-anchor="middle" font-size="13.8" >t (ps)</text>
<text transform="translate(485.9,71.7) rotate(-90)" text-anchor="middle" font-size="13.8" >FWHM</text>
<text transform="translate(504.4,71.4) rotate(-90)" text-anchor="middle" font-size="13.8" >(nm)</text>
<line x1="643.3" y1="93.8" x2="661.6" y2="93.8" stroke="#ff0000" stroke-width="1.6" />
<text x="670.2" y="98.4" text-anchor="start" font-size="13.8" >6 ps</text>
<line x1="643.3" y1="116.4" x2="661.6" y2="116.4" stroke="#ff8000" stroke-width="1.6" />
<text x="670.2" y="121" text-anchor="start" font-size="13.8" >9 ps</text>
<line x1="643.3" y1="139" x2="661.6" y2="139" stroke="#800080" stroke-width="1.6" />
<path transform="translate(670.2,143.6) scale(0.00674,-0.00674)" d="M806,0H525V1059Q371,915 162,846V1101Q272,1137 401,1237.5Q530,1338 578,1472H806Z" fill="#000" stroke="#000" stroke-width="45"/>
<text x="677.87" y="143.6" font-size="13.8" >2 ps</text>
<line x1="643.3" y1="161.6" x2="661.6" y2="161.6" stroke="#00ffff" stroke-width="1.6" />
<path transform="translate(670.2,166.2) scale(0.00674,-0.00674)" d="M806,0H525V1059Q371,915 162,846V1101Q272,1137 401,1237.5Q530,1338 578,1472H806Z" fill="#000" stroke="#000" stroke-width="45"/>
<text x="677.87" y="166.2" font-size="13.8" >5 ps</text>
<rect x="33.6" y="302.45" width="316.8" height="194.8" fill="none" stroke="#8e8e8e" stroke-width="1.15"/>
<line x1="33.6" y1="482.3" x2="36.9" y2="482.3" stroke="#7a7a7a" stroke-width="0.9" />
<line x1="33.6" y1="397" x2="36.9" y2="397" stroke="#7a7a7a" stroke-width="0.9" />
<line x1="33.6" y1="311.7" x2="36.9" y2="311.7" stroke="#7a7a7a" stroke-width="0.9" />
<line x1="40.2" y1="497.25" x2="40.2" y2="493.95" stroke="#7a7a7a" stroke-width="0.9" />
<line x1="100.92" y1="497.25" x2="100.92" y2="493.95" stroke="#7a7a7a" stroke-width="0.9" />
<line x1="161.64" y1="497.25" x2="161.64" y2="493.95" stroke="#7a7a7a" stroke-width="0.9" />
<line x1="222.36" y1="497.25" x2="222.36" y2="493.95" stroke="#7a7a7a" stroke-width="0.9" />
<line x1="283.08" y1="497.25" x2="283.08" y2="493.95" stroke="#7a7a7a" stroke-width="0.9" />
<line x1="343.8" y1="497.25" x2="343.8" y2="493.95" stroke="#7a7a7a" stroke-width="0.9" />
<path transform="translate(23.13,316.6) scale(0.00674,-0.00674)" d="M806,0H525V1059Q371,915 162,846V1101Q272,1137 401,1237.5Q530,1338 578,1472H806Z" fill="#000" stroke="#000" stroke-width="45"/>
<text x="29.6" y="401.9" text-anchor="end" font-size="13.8" >.5</text>
<text x="29.8" y="487.2" text-anchor="end" font-size="13.8" >0</text>
<text x="40.2" y="513.5" text-anchor="middle" font-size="13.8" >0</text>
<path transform="translate(93.25,513.5) scale(0.00674,-0.00674)" d="M806,0H525V1059Q371,915 162,846V1101Q272,1137 401,1237.5Q530,1338 578,1472H806Z" fill="#000" stroke="#000" stroke-width="45"/>
<text x="100.92" y="513.5" font-size="13.8" >2</text>
<text x="161.64" y="513.5" text-anchor="middle" font-size="13.8" >24</text>
<text x="222.36" y="513.5" text-anchor="middle" font-size="13.8" >36</text>
<text x="283.08" y="513.5" text-anchor="middle" font-size="13.8" >48</text>
<text x="343.8" y="513.5" text-anchor="middle" font-size="13.8" >60</text>
<text x="191.6" y="534.7" text-anchor="middle" font-size="13.8" >t (ps)</text>
<g transform="translate(10,397.5) rotate(-90)">
<path d="M-48.0,-10 L-38.4,-10 L-43.2,0 Z M-45.7,-8.4 L-43.2,-3.4 L-40.7,-8.4 Z" fill="#000" fill-rule="evenodd"/>
<text x="-37.6" y="0" font-size="13.8" font-style="italic">T</text>
<text x="-29.7" y="2.4" font-size="9.2" font-style="italic">z</text>
<text x="-20.7" y="0" font-size="13.8">(arb. units)</text>
</g>
<polyline points="40.2,482.3 57,482.3 60.6,482 66.7,475 71.1,467.3 73.4,457.3 75.6,437.3 78.9,387.8 80.3,365 80.4,363.62 80.5,362.25 80.6,360.87 80.7,359.49 80.8,358.11 80.89,356.73 80.98,355.36 81.07,353.98 81.16,352.6 81.25,351.22 81.33,349.84 81.42,348.46 81.5,347.09 81.59,345.71 81.68,344.33 81.77,342.95 81.86,341.57 81.95,340.19 82.04,338.82 82.14,337.44 82.24,336.06 82.34,334.68 82.46,333.31 82.58,331.93 82.7,330.55 82.82,329.17 82.96,327.8 83.11,326.42 83.28,325.05 83.46,323.69 83.68,322.33 83.94,320.97 84.27,319.61 84.65,318.28 85.08,316.99 85.65,315.73 86.33,314.51 87.05,313.24 87.87,312.01 88.91,312.26 89.98,313.37 90.66,314.5 91.22,315.81 91.68,317.14 92.07,318.45 92.42,319.79 92.72,321.15 92.99,322.51 93.24,323.86 93.46,325.22 93.67,326.59 93.87,327.96 94.05,329.33 94.23,330.7 94.41,332.07 94.58,333.44 94.75,334.81 94.91,336.18 95.07,337.55 95.23,338.93 95.38,340.3 95.53,341.67 95.69,343.04 95.85,344.42 96.01,345.79 96.17,347.16 96.33,348.53 96.5,349.9 96.66,351.27 96.82,352.65 96.98,354.02 97.13,355.39 97.29,356.76 97.44,358.14 97.6,359.51 97.75,360.88 97.9,362.25 98.05,363.63 98.2,365 100.1,387.8 103.4,420 104.5,431.7 107.9,445 113.1,465.1 123.6,479.9 134.9,484.3 143.6,486.9 161.7,487.8 200,486.6 240,485.2 290,483.6 345,482.8" fill="none" stroke="#0000ff" stroke-width="1.85" stroke-linejoin="round" />
<polyline points="40.2,482.3 59,482.3 62.2,482 70.6,475 72.8,470.7 73.45,469.19 74.05,467.66 74.53,466.1 74.91,464.53 75.24,462.93 75.55,461.32 75.82,459.7 76.08,458.07 76.33,456.45 76.57,454.82 76.82,453.2 77.06,451.59 77.28,449.96 77.5,448.34 77.71,446.72 77.92,445.09 78.12,443.47 78.33,441.84 78.53,440.22 78.73,438.59 78.94,436.97 79.16,435.34 79.37,433.72 79.59,432.1 79.8,430.47 80.01,428.85 80.22,427.23 80.43,425.6 80.63,423.98 80.83,422.35 81.02,420.72 81.2,419.1 81.36,417.47 81.51,415.83 81.65,414.2 81.8,412.57 81.97,410.94 82.16,409.32 82.38,407.7 82.62,406.08 82.9,404.46 83.2,402.84 83.53,401.24 83.88,399.65 84.3,398.07 84.78,396.51 85.3,394.95 85.83,393.39 86.35,391.84 86.86,390.28 87.38,388.72 87.93,387.18 88.54,385.67 89.2,384.15 89.93,382.65 90.75,381.24 91.71,379.98 92.88,378.84 94.2,377.8 98.4,399 102.3,420 105.7,431.7 111.2,451.7 117,463.5 124.8,475.5 134.9,479.9 143.6,483.4 150,484.3 161.7,485.6 200,485.2 240,484.4 290,483.3 345,482.7" fill="none" stroke="#00ff00" stroke-width="1.85" stroke-linejoin="round" />
<polyline points="40.2,482.3 62,482.3 66.7,481.8 73.9,478.4 77.8,472.9 85.05,462.9 94.3,453.4 100,457.2 109,464 114,468.6 120,474 124.4,476.9 136.6,479.5 141.9,480.3 150,481.2 161.7,483.3 200,483.4 240,483.2 290,482.8 345,482.5" fill="none" stroke="#ff8000" stroke-width="1.85" stroke-linejoin="round" />
<polyline points="40.2,482.3 61,482.3 65,481.8 70.4,479 74.5,472.9 77.8,465.1 81.2,454 85.05,438.4 88.95,428.4 94.3,419.5 102.3,439.5 109,454 114.6,464 120,470.7 124,473.8 136.6,478.6 150,482.1 161.7,484.3 200,484.2 240,483.8 290,483 345,482.6" fill="none" stroke="#ff0000" stroke-width="1.85" stroke-linejoin="round" />
<polyline points="40.2,482.3 40.71,482.3 41.21,482.3 41.72,482.3 42.23,482.3 42.73,482.3 43.24,482.3 43.75,482.3 44.25,482.3 44.76,482.3 45.27,482.3 45.78,482.3 46.28,482.3 46.79,482.3 47.3,482.3 47.8,482.3 48.31,482.3 48.82,482.3 49.32,482.3 49.83,482.3 50.34,482.3 50.84,482.3 51.35,482.3 51.86,482.3 52.36,482.3 52.87,482.3 53.38,482.3 53.88,482.3 54.39,482.3 54.9,482.3 55.41,482.3 55.91,482.3 56.42,482.3 56.93,482.3 57.43,482.3 57.94,482.3 58.45,482.3 58.95,482.3 59.46,482.3 59.97,482.3 60.47,482.29 60.98,482.29 61.49,482.29 61.99,482.29 62.5,482.28 63.01,482.28 63.51,482.27 64.02,482.26 64.53,482.25 65.04,482.24 65.54,482.22 66.05,482.19 66.56,482.17 67.06,482.13 67.57,482.09 68.08,482.04 68.58,481.97 69.09,481.9 69.6,481.81 70.1,481.71 70.61,481.58 71.12,481.44 71.62,481.28 72.13,481.09 72.64,480.87 73.14,480.63 73.65,480.36 74.16,480.06 74.67,479.73 75.17,479.36 75.68,478.97 76.19,478.55 76.69,478.09 77.2,477.62 77.71,477.12 78.21,476.6 78.72,476.08 79.23,475.54 79.73,475 80.24,474.47 80.75,473.96 81.25,473.46 81.76,472.99 82.27,472.56 82.77,472.17 83.28,471.83 83.79,471.54 84.3,471.32 84.8,471.16 85.31,471.07 85.82,471.04 86.32,471.09 86.83,471.2 87.34,471.38 87.84,471.62 88.35,471.93 88.86,472.28 89.36,472.69 89.87,473.13 90.38,473.61 90.88,474.11 91.39,474.63 91.9,475.17 92.41,475.7 92.91,476.24 93.42,476.76 93.93,477.27 94.43,477.76 94.94,478.23 95.45,478.68 95.95,479.09 96.46,479.47 96.97,479.83 97.47,480.15 97.98,480.44 98.49,480.71 98.99,480.94 99.5,481.15 100.01,481.33 100.51,481.49 101.02,481.62 101.53,481.74 102.04,481.84 102.54,481.92 103.05,481.99 103.56,482.05 104.06,482.1 104.57,482.14 105.08,482.17 105.58,482.2 106.09,482.22 106.6,482.24 107.1,482.25 107.61,482.26 108.12,482.27 108.62,482.28 109.13,482.28 109.64,482.29 110.14,482.29 110.65,482.29 111.16,482.3 111.67,482.3 112.17,482.3 112.68,482.3 113.19,482.3 113.69,482.3 114.2,482.3 114.71,482.3 115.21,482.3 115.72,482.3 116.23,482.3 116.73,482.3 117.24,482.3 117.75,482.3 118.25,482.3 118.76,482.3 119.27,482.3 119.77,482.3 120.28,482.3 120.79,482.3 121.3,482.3 121.8,482.3 122.31,482.3 122.82,482.3 123.32,482.3 123.83,482.3 124.34,482.3 124.84,482.3 125.35,482.3 125.86,482.3 126.36,482.3 126.87,482.3 127.38,482.3 127.88,482.3 128.39,482.3 128.9,482.3 129.4,482.3 129.91,482.3 130.42,482.3 130.93,482.3 131.43,482.3 131.94,482.3 132.45,482.3 132.95,482.3 133.46,482.3 133.97,482.3 134.47,482.3 134.98,482.3 135.49,482.3 135.99,482.3 136.5,482.3 137.01,482.3 137.51,482.3 138.02,482.3 138.53,482.3 139.03,482.3 139.54,482.3 140.05,482.3 140.56,482.3 141.06,482.3 141.57,482.3 142.08,482.3 142.58,482.3 143.09,482.3 143.6,482.3 144.1,482.3 144.61,482.3 145.12,482.3 145.62,482.3 146.13,482.3 146.64,482.3 147.14,482.3 147.65,482.3 148.16,482.3 148.66,482.3 149.17,482.3 149.68,482.3 150.19,482.3 150.69,482.3 151.2,482.3 151.71,482.3 152.21,482.3 152.72,482.3 153.23,482.3 153.73,482.3 154.24,482.3 154.75,482.3 155.25,482.3 155.76,482.3 156.27,482.3 156.77,482.3 157.28,482.3 157.79,482.3 158.29,482.3 158.8,482.3 159.31,482.3 159.82,482.3 160.32,482.3 160.83,482.3 161.34,482.3 161.84,482.3 162.35,482.3 162.86,482.3 163.36,482.3 163.87,482.3 164.38,482.3 164.88,482.3 165.39,482.3 165.9,482.3 166.4,482.3 166.91,482.3 167.42,482.3 167.92,482.3 168.43,482.3 168.94,482.3 169.45,482.3 169.95,482.3 170.46,482.3 170.97,482.3 171.47,482.3 171.98,482.3 172.49,482.3 172.99,482.3 173.5,482.3 174.01,482.3 174.51,482.3 175.02,482.3 175.53,482.3 176.03,482.3 176.54,482.3 177.05,482.3 177.55,482.3 178.06,482.3 178.57,482.3 179.08,482.3 179.58,482.3 180.09,482.3 180.6,482.3 181.1,482.3 181.61,482.3 182.12,482.3 182.62,482.3 183.13,482.3 183.64,482.3 184.14,482.3 184.65,482.3 185.16,482.3 185.66,482.3 186.17,482.3 186.68,482.3 187.18,482.3 187.69,482.3 188.2,482.3 188.71,482.3 189.21,482.3 189.72,482.3 190.23,482.3 190.73,482.3 191.24,482.3 191.75,482.3 192.25,482.3 192.76,482.3 193.27,482.3 193.77,482.3 194.28,482.3 194.79,482.3 195.29,482.3 195.8,482.3 196.31,482.3 196.82,482.3 197.32,482.3 197.83,482.3 198.34,482.3 198.84,482.3 199.35,482.3 199.86,482.3 200.36,482.3 200.87,482.3 201.38,482.3 201.88,482.3 202.39,482.3 202.9,482.3 203.4,482.3 203.91,482.3 204.42,482.3 204.92,482.3 205.43,482.3 205.94,482.3 206.45,482.3 206.95,482.3 207.46,482.3 207.97,482.3 208.47,482.3 208.98,482.3 209.49,482.3 209.99,482.3 210.5,482.3 211.01,482.3 211.51,482.3 212.02,482.3 212.53,482.3 213.03,482.3 213.54,482.3 214.05,482.3 214.55,482.3 215.06,482.3 215.57,482.3 216.08,482.3 216.58,482.3 217.09,482.3 217.6,482.3 218.1,482.3 218.61,482.3 219.12,482.3 219.62,482.3 220.13,482.3 220.64,482.3 221.14,482.3 221.65,482.3 222.16,482.3 222.66,482.3 223.17,482.3 223.68,482.3 224.18,482.3 224.69,482.3 225.2,482.3 225.71,482.3 226.21,482.3 226.72,482.3 227.23,482.3 227.73,482.3 228.24,482.3 228.75,482.3 229.25,482.3 229.76,482.3 230.27,482.3 230.77,482.3 231.28,482.3 231.79,482.3 232.29,482.3 232.8,482.3 233.31,482.3 233.81,482.3 234.32,482.3 234.83,482.3 235.34,482.3 235.84,482.3 236.35,482.3 236.86,482.3 237.36,482.3 237.87,482.3 238.38,482.3 238.88,482.3 239.39,482.3 239.9,482.3 240.4,482.3 240.91,482.3 241.42,482.3 241.92,482.3 242.43,482.3 242.94,482.3 243.44,482.3 243.95,482.3 244.46,482.3 244.97,482.3 245.47,482.3 245.98,482.3 246.49,482.3 246.99,482.3 247.5,482.3 248.01,482.3 248.51,482.3 249.02,482.3 249.53,482.3 250.03,482.3 250.54,482.3 251.05,482.3 251.55,482.3 252.06,482.3 252.57,482.3 253.07,482.3 253.58,482.3 254.09,482.3 254.6,482.3 255.1,482.3 255.61,482.3 256.12,482.3 256.62,482.3 257.13,482.3 257.64,482.3 258.14,482.3 258.65,482.3 259.16,482.3 259.66,482.3 260.17,482.3 260.68,482.3 261.18,482.3 261.69,482.3 262.2,482.3 262.7,482.3 263.21,482.3 263.72,482.3 264.23,482.3 264.73,482.3 265.24,482.3 265.75,482.3 266.25,482.3 266.76,482.3 267.27,482.3 267.77,482.3 268.28,482.3 268.79,482.3 269.29,482.3 269.8,482.3 270.31,482.3 270.81,482.3 271.32,482.3 271.83,482.3 272.33,482.3 272.84,482.3 273.35,482.3 273.86,482.3 274.36,482.3 274.87,482.3 275.38,482.3 275.88,482.3 276.39,482.3 276.9,482.3 277.4,482.3 277.91,482.3 278.42,482.3 278.92,482.3 279.43,482.3 279.94,482.3 280.44,482.3 280.95,482.3 281.46,482.3 281.96,482.3 282.47,482.3 282.98,482.3 283.49,482.3 283.99,482.3 284.5,482.3 285.01,482.3 285.51,482.3 286.02,482.3 286.53,482.3 287.03,482.3 287.54,482.3 288.05,482.3 288.55,482.3 289.06,482.3 289.57,482.3 290.07,482.3 290.58,482.3 291.09,482.3 291.59,482.3 292.1,482.3 292.61,482.3 293.12,482.3 293.62,482.3 294.13,482.3 294.64,482.3 295.14,482.3 295.65,482.3 296.16,482.3 296.66,482.3 297.17,482.3 297.68,482.3 298.18,482.3 298.69,482.3 299.2,482.3 299.7,482.3 300.21,482.3 300.72,482.3 301.23,482.3 301.73,482.3 302.24,482.3 302.75,482.3 303.25,482.3 303.76,482.3 304.27,482.3 304.77,482.3 305.28,482.3 305.79,482.3 306.29,482.3 306.8,482.3 307.31,482.3 307.81,482.3 308.32,482.3 308.83,482.3 309.33,482.3 309.84,482.3 310.35,482.3 310.86,482.3 311.36,482.3 311.87,482.3 312.38,482.3 312.88,482.3 313.39,482.3 313.9,482.3 314.4,482.3 314.91,482.3 315.42,482.3 315.92,482.3 316.43,482.3 316.94,482.3 317.44,482.3 317.95,482.3 318.46,482.3 318.96,482.3 319.47,482.3 319.98,482.3 320.49,482.3 320.99,482.3 321.5,482.3 322.01,482.3 322.51,482.3 323.02,482.3 323.53,482.3 324.03,482.3 324.54,482.3 325.05,482.3 325.55,482.3 326.06,482.3 326.57,482.3 327.07,482.3 327.58,482.3 328.09,482.3 328.59,482.3 329.1,482.3 329.61,482.3 330.12,482.3 330.62,482.3 331.13,482.3 331.64,482.3 332.14,482.3 332.65,482.3 333.16,482.3 333.66,482.3 334.17,482.3 334.68,482.3 335.18,482.3 335.69,482.3 336.2,482.3 336.7,482.3 337.21,482.3 337.72,482.3 338.22,482.3 338.73,482.3 339.24,482.3 339.75,482.3 340.25,482.3 340.76,482.3 341.27,482.3 341.77,482.3 342.28,482.3 342.79,482.3 343.29,482.3 343.8,482.3" fill="none" stroke="#000" stroke-width="2.4" stroke-linejoin="round" stroke-linecap="square"/>
<line x1="85.74" y1="305.2" x2="85.74" y2="498.5" stroke="#000" stroke-width="2.4" stroke-dasharray="4.8 2.4"/>
<line x1="161.4" y1="453.1" x2="110" y2="467.7" stroke="#000" stroke-width="2.2"/>
<polygon points="100.9,470.3 111.4,465.0 113.3,470.5" fill="#000"/>
<text x="135.2" y="447.2" text-anchor="start" font-size="11.7" >3ps wide laser pulse</text>
<rect x="171.2" y="314.5" width="90.8" height="56" fill="none" stroke="#8e8e8e" stroke-width="0.9"/>
<line x1="176.1" y1="370.5" x2="176.1" y2="368.5" stroke="#7a7a7a" stroke-width="0.9" />
<line x1="255.6" y1="370.5" x2="255.6" y2="368.5" stroke="#7a7a7a" stroke-width="0.9" />
<line x1="171.2" y1="366.3" x2="173.2" y2="366.3" stroke="#7a7a7a" stroke-width="0.9" />
<line x1="171.2" y1="325.6" x2="173.2" y2="325.6" stroke="#7a7a7a" stroke-width="0.9" />
<circle cx="176.1" cy="355.6" r="2" fill="#fff" stroke="#000" stroke-width="1.8"/>
<circle cx="202.6" cy="345.2" r="2" fill="#fff" stroke="#000" stroke-width="1.8"/>
<circle cx="229.5" cy="335.2" r="2" fill="#fff" stroke="#000" stroke-width="1.8"/>
<circle cx="255.1" cy="324" r="2" fill="#fff" stroke="#000" stroke-width="1.8"/>
<text x="168.3" y="330.5" text-anchor="end" font-size="13.8" >6</text>
<text x="168.3" y="371.2" text-anchor="end" font-size="13.8" >4</text>
<text x="176.1" y="386.3" text-anchor="middle" font-size="13.8" >0</text>
<text x="256.3" y="386.3" text-anchor="middle" font-size="13.8" >7.5</text>
<text x="216.3" y="407.8" text-anchor="middle" font-size="13.8" >depth (nm)</text>
<text transform="translate(130.9,342.4) rotate(-90)" text-anchor="middle" font-size="13.8" >FWHM</text>
<text transform="translate(149.7,342.6) rotate(-90)" text-anchor="middle" font-size="13.8" >(ps)</text>
<line x1="270.8" y1="396.7" x2="289.9" y2="396.7" stroke="#0000ff" stroke-width="1.6" />
<text x="297.9" y="401.3" text-anchor="start" font-size="13.8" >0 nm</text>
<line x1="270.8" y1="419.3" x2="289.9" y2="419.3" stroke="#00ff00" stroke-width="1.6" />
<text x="297.9" y="423.9" text-anchor="start" font-size="13.8" >2.5 nm</text>
<line x1="270.8" y1="441.8" x2="289.9" y2="441.8" stroke="#ff0000" stroke-width="1.6" />
<text x="297.9" y="446.4" text-anchor="start" font-size="13.8" >5 nm</text>
<line x1="270.8" y1="464.7" x2="289.9" y2="464.7" stroke="#ff8000" stroke-width="1.6" />
<text x="297.9" y="469.3" text-anchor="start" font-size="13.8" >7.5 nm</text>
<rect x="417.5" y="302.4" width="266.75" height="163.9" fill="none" stroke="#8e8e8e" stroke-width="1.15"/>
<line x1="422.7" y1="466.3" x2="422.7" y2="463" stroke="#7a7a7a" stroke-width="0.9" />
<text x="422.7" y="482.9" text-anchor="middle" font-size="13.8" >0</text>
<line x1="486.6" y1="466.3" x2="486.6" y2="463" stroke="#7a7a7a" stroke-width="0.9" />
<text x="486.6" y="482.9" text-anchor="middle" font-size="13.8" >20</text>
<line x1="550.5" y1="466.3" x2="550.5" y2="463" stroke="#7a7a7a" stroke-width="0.9" />
<text x="550.5" y="482.9" text-anchor="middle" font-size="13.8" >40</text>
<line x1="614.4" y1="466.3" x2="614.4" y2="463" stroke="#7a7a7a" stroke-width="0.9" />
<text x="614.4" y="482.9" text-anchor="middle" font-size="13.8" >60</text>
<line x1="678.3" y1="466.3" x2="678.3" y2="463" stroke="#7a7a7a" stroke-width="0.9" />
<text x="678.3" y="482.9" text-anchor="middle" font-size="13.8" >80</text>
<line x1="417.5" y1="463.3" x2="420.8" y2="463.3" stroke="#7a7a7a" stroke-width="0.9" />
<text x="413.9" y="468.2" text-anchor="end" font-size="13.8" >0</text>
<line x1="417.5" y1="396.65" x2="420.8" y2="396.65" stroke="#7a7a7a" stroke-width="0.9" />
<text x="413.9" y="401.55" text-anchor="end" font-size="13.8" >50</text>
<line x1="417.5" y1="330" x2="420.8" y2="330" stroke="#7a7a7a" stroke-width="0.9" />
<path transform="translate(390.88,334.9) scale(0.00674,-0.00674)" d="M806,0H525V1059Q371,915 162,846V1101Q272,1137 401,1237.5Q530,1338 578,1472H806Z" fill="#000" stroke="#000" stroke-width="45"/>
<text x="398.55" y="334.9" font-size="13.8" >00</text>
<line x1="684.25" y1="463.3" x2="680.95" y2="463.3" stroke="#7a7a7a" stroke-width="0.9" />
<text x="687.3" y="468.2" text-anchor="start" font-size="13.8" >0</text>
<line x1="684.25" y1="423.3" x2="680.95" y2="423.3" stroke="#7a7a7a" stroke-width="0.9" />
<path transform="translate(687.3,428.2) scale(0.00674,-0.00674)" d="M806,0H525V1059Q371,915 162,846V1101Q272,1137 401,1237.5Q530,1338 578,1472H806Z" fill="#000" stroke="#000" stroke-width="45"/>
<text x="694.97" y="428.2" font-size="13.8" >0</text>
<line x1="684.25" y1="383.3" x2="680.95" y2="383.3" stroke="#7a7a7a" stroke-width="0.9" />
<text x="687.3" y="388.2" text-anchor="start" font-size="13.8" >20</text>
<line x1="684.25" y1="343.3" x2="680.95" y2="343.3" stroke="#7a7a7a" stroke-width="0.9" />
<text x="687.3" y="348.2" text-anchor="start" font-size="13.8" >30</text>
<text x="550.9" y="504.2" text-anchor="middle" font-size="13.8" >apex radius (nm)</text>
<text transform="translate(383,384.2) rotate(-90)" text-anchor="middle" font-size="13.8" >FWHM (nm)</text>
<text transform="translate(722.2,383) rotate(-90)" text-anchor="middle" font-size="13.8" >max pos. (nm)</text>
<circle cx="455.1" cy="412.9" r="1.85" fill="#ff0000"/>
<circle cx="470.8" cy="400.2" r="1.85" fill="#ff0000"/>
<circle cx="486.3" cy="385.4" r="1.85" fill="#ff0000"/>
<circle cx="502.4" cy="368.6" r="1.85" fill="#ff0000"/>
<circle cx="519.1" cy="354.8" r="1.85" fill="#ff0000"/>
<circle cx="534.9" cy="341.1" r="1.85" fill="#ff0000"/>
<circle cx="550.7" cy="321" r="1.85" fill="#ff0000"/>
<circle cx="566.7" cy="310.5" r="1.85" fill="#ff0000"/>
<circle cx="454.65" cy="463.3" r="1.85" fill="#0000ff"/>
<circle cx="470.62" cy="463.3" r="1.85" fill="#0000ff"/>
<circle cx="486.6" cy="463.3" r="1.85" fill="#0000ff"/>
<circle cx="502.57" cy="463.3" r="1.85" fill="#0000ff"/>
<circle cx="518.55" cy="463.3" r="1.85" fill="#0000ff"/>
<circle cx="534.52" cy="463.3" r="1.85" fill="#0000ff"/>
<circle cx="550.5" cy="463.3" r="1.85" fill="#0000ff"/>
<circle cx="566.48" cy="463.3" r="1.85" fill="#0000ff"/>
<circle cx="582.5" cy="452" r="1.85" fill="#0000ff"/>
<circle cx="599" cy="415.3" r="1.85" fill="#0000ff"/>
<circle cx="614.8" cy="401.4" r="1.85" fill="#0000ff"/>
<circle cx="630.8" cy="381.6" r="1.85" fill="#0000ff"/>
<circle cx="646.7" cy="377.7" r="1.85" fill="#0000ff"/>
<circle cx="662.5" cy="373.5" r="1.85" fill="#0000ff"/>
<circle cx="678.7" cy="361.7" r="1.85" fill="#0000ff"/>
<line x1="486.9" y1="363.4" x2="441" y2="363.4" stroke="#ff0000" stroke-width="2.4"/>
<polygon points="431.8,363.4 443.3,360.0 441.9,363.4 443.3,366.8" fill="#ff0000"/>
<line x1="614.8" y1="423.6" x2="664" y2="423.6" stroke="#0000ff" stroke-width="2.4"/>
<polygon points="673,423.6 661.5,420.2 662.9,423.6 661.5,427" fill="#0000ff"/>
<text x="28.1" y="16.27" font-size="21.4" style="font-weight:normal;stroke-width:0.25px">(</text>
<text transform="translate(37.2,17.82) scale(0.88,1)" font-size="25" style="font-weight:normal;stroke-width:0.25px">a</text>
<text x="52.6" y="16.27" font-size="21.4" style="font-weight:normal;stroke-width:0.25px">)</text>
<text x="413.8" y="16.27" font-size="21.4" style="font-weight:normal;stroke-width:0.25px">(</text>
<text transform="translate(422.9,17.82) scale(1.02,1)" font-size="25" style="font-weight:normal;stroke-width:0.25px">b</text>
<text x="438.7" y="16.27" font-size="21.4" style="font-weight:normal;stroke-width:0.25px">)</text>
<text x="28.1" y="290.45" font-size="21.4" style="font-weight:normal;stroke-width:0.25px">(</text>
<text transform="translate(36.74,291.85) scale(0.97,1)" font-size="25" style="font-weight:normal;stroke-width:0.25px">c</text>
<text x="51.1" y="290.45" font-size="21.4" style="font-weight:normal;stroke-width:0.25px">)</text>
<text x="413.8" y="290.45" font-size="21.4" style="font-weight:normal;stroke-width:0.25px">(</text>
<text transform="translate(422.45,291.85) scale(1.03,1)" font-size="25" style="font-weight:normal;stroke-width:0.25px">d</text>
<text x="438.7" y="290.45" font-size="21.4" style="font-weight:normal;stroke-width:0.25px">)</text>
</svg>
</body></html>
